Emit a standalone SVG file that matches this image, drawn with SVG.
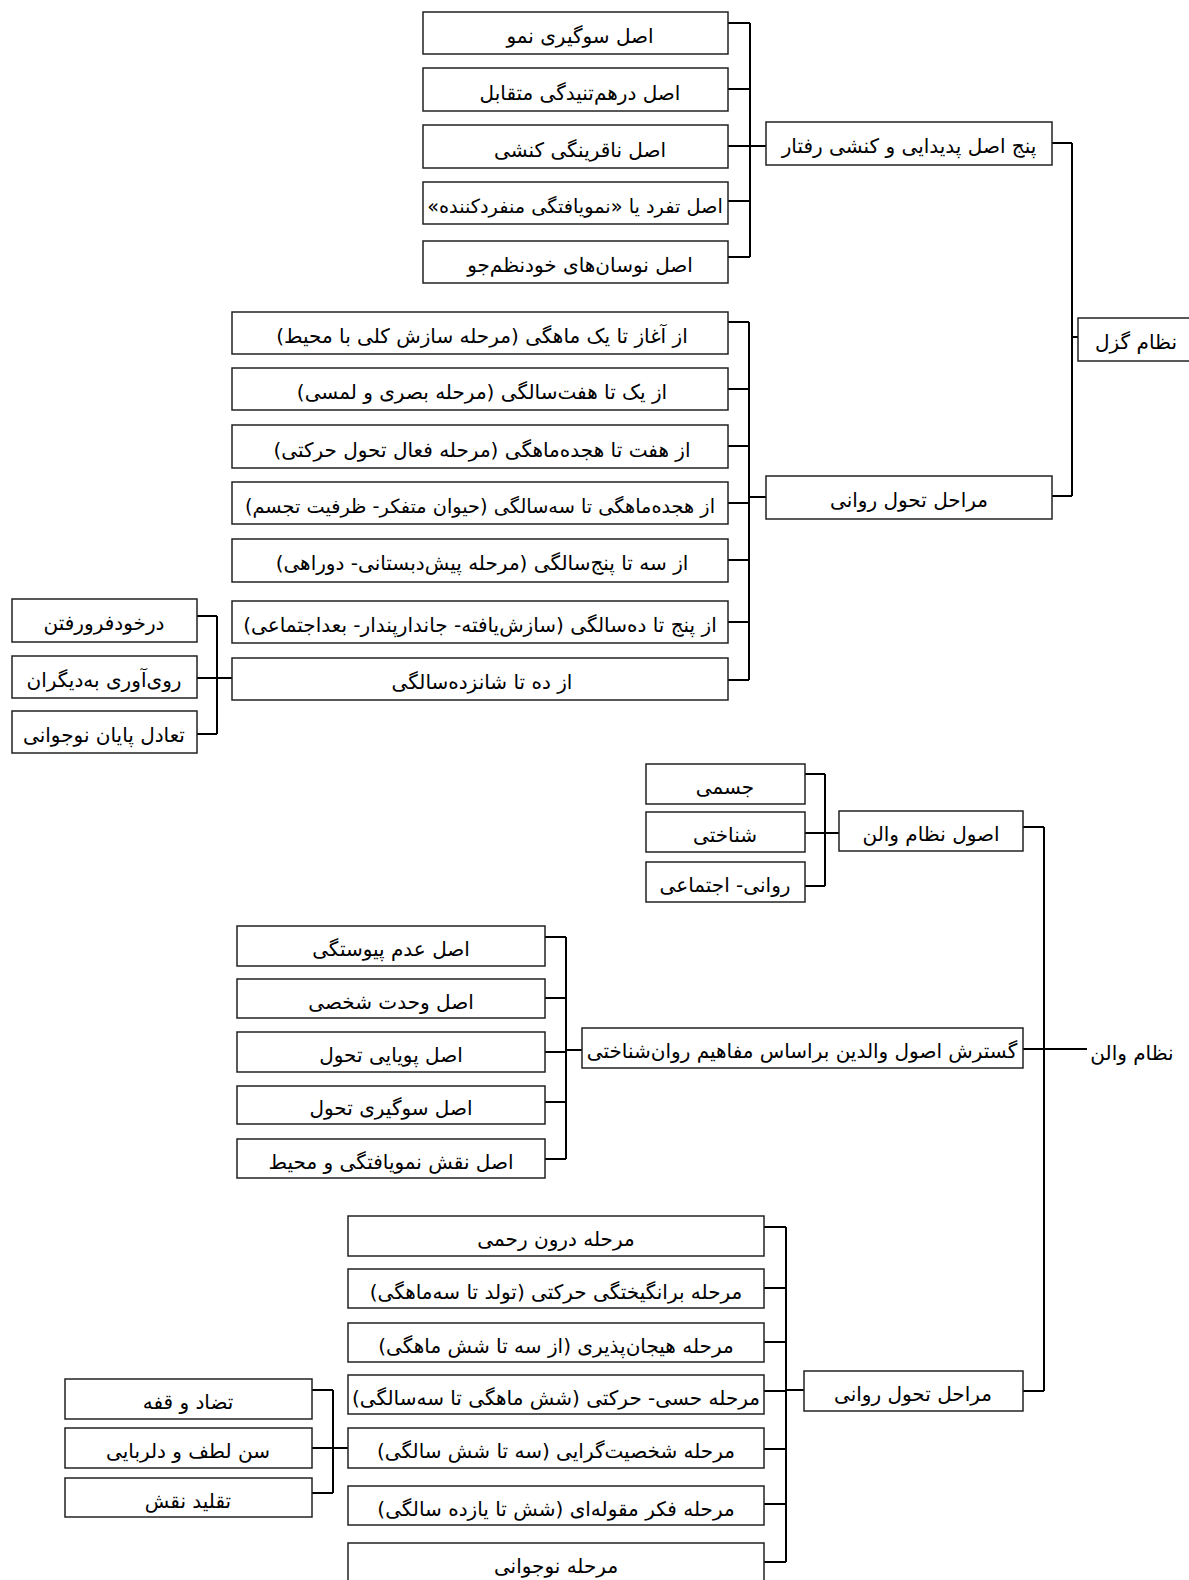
<svg xmlns="http://www.w3.org/2000/svg" width="1189" height="1580" viewBox="0 0 1189 1580">
<style>
rect.b { fill: #fff; stroke: #222; stroke-width: 1.5; }
text { font-family: "DejaVu Sans", sans-serif; font-size: 20px; fill: #000; text-anchor: middle; direction: rtl; unicode-bidi: embed; }
text.s { font-size: 19.3px; }
.c path { fill: none; stroke: #000; stroke-width: 2; }
</style>
<rect width="1189" height="1580" fill="#fff"/>
<g class="c" id="connectors">
  <path d="M728 23H750M728 89H750M728 146H750M728 201H750M728 257H750M750 23V257M750 146H766"/>
  <path d="M1052 143H1072M1052 496H1072M1072 143V496M1072 337H1087"/>
  <path d="M728 322H749M728 389H749M728 446H749M728 503H749M728 560H749M728 622H749M728 680H749M749 322V680M749 497H766"/>
  <path d="M197 616H217M197 678H217M197 734H217M217 616V734M217 678H232"/>
  <path d="M1044 827V1391M1023 827H1044M1023 1049H1087M1023 1391H1044"/>
  <path d="M805 774H825M805 833H825M805 886H825M825 774V886M825 833H839"/>
  <path d="M545 937H566M545 998H566M545 1052H566M545 1102H566M545 1159H566M566 937V1159M566 1050H582"/>
  <path d="M764 1227H786M764 1288H786M764 1342H786M764 1391H786M764 1449H786M764 1504H786M764 1562H786M786 1227V1562M786 1390H804"/>
  <path d="M312 1390H333M312 1448H333M312 1493H333M333 1390V1493M333 1448H348"/>
</g>
<g id="gesell">
  <rect class="b" x="1078" y="318" width="115" height="43"/><text x="1136" y="349">نظام گزل</text>
</g>
<g id="g-principles">
  <rect class="b" x="766" y="122" width="286" height="43"/><text x="909" y="153">پنج اصل پدیدایی و کنشی رفتار</text>
</g>
<g id="g-p1"><rect class="b" x="423" y="12" width="305" height="42"/><text x="580" y="43">اصل سوگیری نمو</text></g>
<g id="g-p2"><rect class="b" x="423" y="68" width="305" height="43"/><text x="580" y="100">اصل درهم‌تنیدگی متقابل</text></g>
<g id="g-p3"><rect class="b" x="423" y="125" width="305" height="43"/><text x="580" y="157">اصل ناقرینگی کنشی</text></g>
<g id="g-p4"><rect class="b" x="423" y="182" width="305" height="42"/><text class="s" x="575" y="213">اصل تفرد یا «نمویافتگی منفردکننده»</text></g>
<g id="g-p5"><rect class="b" x="423" y="241" width="305" height="42"/><text x="580" y="272">اصل نوسان‌های خودنظم‌جو</text></g>
<g id="g-stages">
  <rect class="b" x="766" y="476" width="286" height="43"/><text x="909" y="507">مراحل تحول روانی</text>
</g>
<g id="g-s1"><rect class="b" x="232" y="312" width="496" height="42"/><text x="482" y="343">از آغاز تا یک ماهگی (مرحله سازش کلی با محیط)</text></g>
<g id="g-s2"><rect class="b" x="232" y="368" width="496" height="42"/><text x="482" y="399">از یک تا هفت‌سالگی (مرحله بصری و لمسی)</text></g>
<g id="g-s3"><rect class="b" x="232" y="425" width="496" height="43"/><text x="482" y="457">از هفت تا هجده‌ماهگی (مرحله فعال تحول حرکتی)</text></g>
<g id="g-s4"><rect class="b" x="232" y="482" width="496" height="42"/><text class="s" x="480" y="513">از هجده‌ماهگی تا سه‌سالگی (حیوان متفکر- ظرفیت تجسم)</text></g>
<g id="g-s5"><rect class="b" x="232" y="539" width="496" height="43"/><text x="482" y="570">از سه تا پنج‌سالگی (مرحله پیش‌دبستانی- دوراهی)</text></g>
<g id="g-s6"><rect class="b" x="232" y="601" width="496" height="42"/><text x="480" y="632">از پنج تا ده‌سالگی (سازش‌یافته- جاندارپندار- بعداجتماعی)</text></g>
<g id="g-s7"><rect class="b" x="232" y="658" width="496" height="42"/><text x="482" y="689">از ده تا شانزده‌سالگی</text></g>
<g id="g-ss1"><rect class="b" x="12" y="599" width="185" height="43"/><text x="104" y="630">درخودفرورفتن</text></g>
<g id="g-ss2"><rect class="b" x="12" y="656" width="185" height="42"/><text x="104" y="687">روی‌آوری به‌دیگران</text></g>
<g id="g-ss3"><rect class="b" x="12" y="711" width="185" height="42"/><text x="104" y="742">تعادل پایان نوجوانی</text></g>

<g id="wallon"><text x="1132" y="1060">نظام والن</text></g>
<g id="w-bases"><rect class="b" x="839" y="811" width="184" height="40"/><text x="931" y="841">اصول نظام والن</text></g>
<g id="w-b1"><rect class="b" x="646" y="764" width="159" height="40"/><text x="725" y="794">جسمی</text></g>
<g id="w-b2"><rect class="b" x="646" y="812" width="159" height="40"/><text x="725" y="842">شناختی</text></g>
<g id="w-b3"><rect class="b" x="646" y="862" width="159" height="40"/><text x="725" y="892">روانی- اجتماعی</text></g>
<g id="w-ext"><rect class="b" x="582" y="1028" width="441" height="40"/><text x="802" y="1058">گسترش اصول والدین براساس مفاهیم روان‌شناختی</text></g>
<g id="w-p1"><rect class="b" x="237" y="926" width="308" height="40"/><text x="391" y="956">اصل عدم پیوستگی</text></g>
<g id="w-p2"><rect class="b" x="237" y="979" width="308" height="39"/><text x="391" y="1009">اصل وحدت شخصی</text></g>
<g id="w-p3"><rect class="b" x="237" y="1032" width="308" height="40"/><text x="391" y="1062">اصل پویایی تحول</text></g>
<g id="w-p4"><rect class="b" x="237" y="1086" width="308" height="38"/><text x="391" y="1115">اصل سوگیری تحول</text></g>
<g id="w-p5"><rect class="b" x="237" y="1139" width="308" height="39"/><text x="391" y="1169">اصل نقش نمویافتگی و محیط</text></g>
<g id="w-stages"><rect class="b" x="804" y="1371" width="219" height="40"/><text x="913" y="1401">مراحل تحول روانی</text></g>
<g id="w-s1"><rect class="b" x="348" y="1216" width="416" height="40"/><text x="556" y="1246">مرحله درون رحمی</text></g>
<g id="w-s2"><rect class="b" x="348" y="1269" width="416" height="39"/><text x="556" y="1299">مرحله برانگیختگی حرکتی (تولد تا سه‌ماهگی)</text></g>
<g id="w-s3"><rect class="b" x="348" y="1323" width="416" height="39"/><text x="556" y="1353">مرحله هیجان‌پذیری (از سه تا شش ماهگی)</text></g>
<g id="w-s4"><rect class="b" x="348" y="1375" width="416" height="39"/><text x="556" y="1405">مرحله حسی- حرکتی (شش ماهگی تا سه‌سالگی)</text></g>
<g id="w-s5"><rect class="b" x="348" y="1428" width="416" height="40"/><text x="556" y="1458">مرحله شخصیت‌گرایی (سه تا شش سالگی)</text></g>
<g id="w-s6"><rect class="b" x="348" y="1486" width="416" height="39"/><text x="556" y="1516">مرحله فکر مقوله‌ای (شش تا یازده سالگی)</text></g>
<g id="w-s7"><rect class="b" x="348" y="1543" width="416" height="50"/><text x="556" y="1573">مرحله نوجوانی</text></g>
<g id="w-ss1"><rect class="b" x="65" y="1379" width="247" height="40"/><text x="188" y="1409">تضاد و قفه</text></g>
<g id="w-ss2"><rect class="b" x="65" y="1428" width="247" height="40"/><text x="188" y="1458">سن لطف و دلربایی</text></g>
<g id="w-ss3"><rect class="b" x="65" y="1478" width="247" height="39"/><text x="188" y="1508">تقلید نقش</text></g>
</svg>
